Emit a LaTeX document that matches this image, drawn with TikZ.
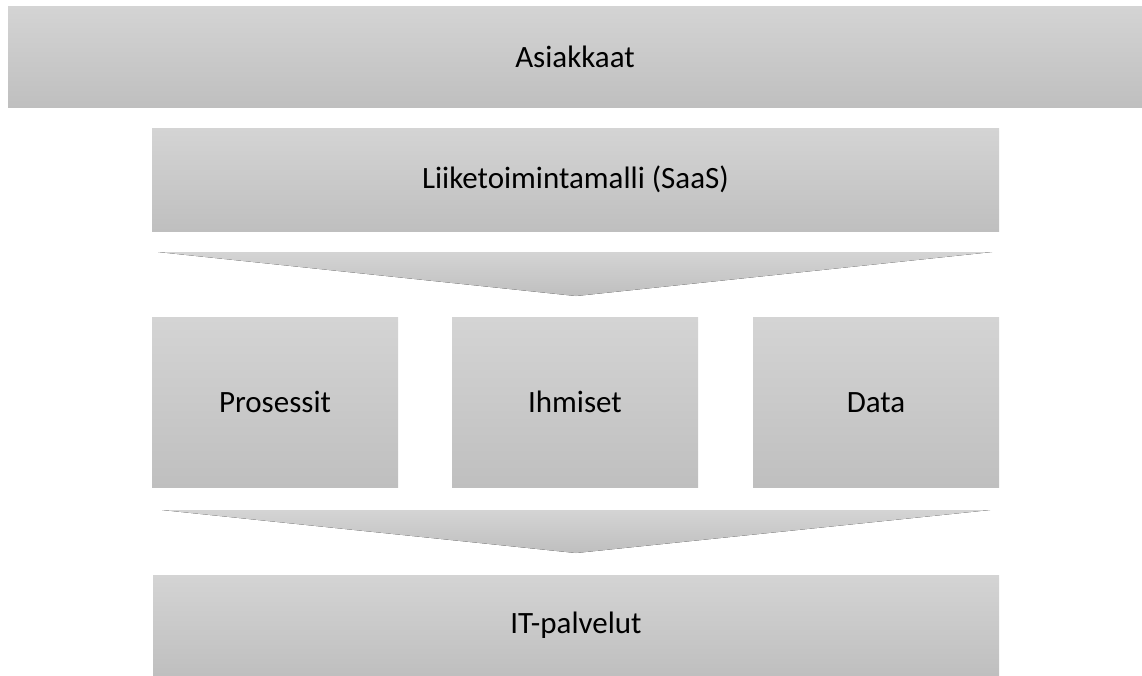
\documentclass[tikz,border=0pt]{standalone}
\usepackage{fontspec}
\setmainfont{Carlito}
\definecolor{gTop}{RGB}{212,212,212}
\definecolor{gBot}{RGB}{191,191,191}
\begin{document}
\begin{tikzpicture}[x=1pt,y=-1pt,
  box/.style={draw=none, top color=gTop, bottom color=gBot, text=black,
    font=\fontsize{31}{36}\selectfont, inner sep=0pt, rectangle},
  funnel/.style={draw=none, top color=gTop, bottom color=gBot}]
\useasboundingbox (0,0) rectangle (1142,675);
\node[box, minimum width=1134pt, minimum height=101.5pt] (asiakkaat) at (575,56.75) {Asiakkaat};
\node[box, minimum width=847pt, minimum height=103pt] (malli) at (575.5,179.5) {Liiketoimintamalli (SaaS)};
\coordinate (f1a) at (158,252);
\coordinate (f1b) at (992,252);
\coordinate (f1c) at (576,296);
\fill[funnel] (f1a) -- (f1b) -- (f1c) -- cycle;
\node[box, minimum width=246pt, minimum height=170.5pt] (prosessit) at (275,402.25) {Prosessit};
\node[box, minimum width=246pt, minimum height=170.5pt] (ihmiset) at (575,402.25) {Ihmiset};
\node[box, minimum width=246pt, minimum height=170.5pt] (data) at (876,402.25) {Data};
\coordinate (f2a) at (162,510);
\coordinate (f2b) at (990,510);
\coordinate (f2c) at (576,553);
\fill[funnel] (f2a) -- (f2b) -- (f2c) -- cycle;
\node[box, minimum width=846pt, minimum height=100pt] (it) at (576,625) {IT-palvelut};
\end{tikzpicture}
\end{document}
